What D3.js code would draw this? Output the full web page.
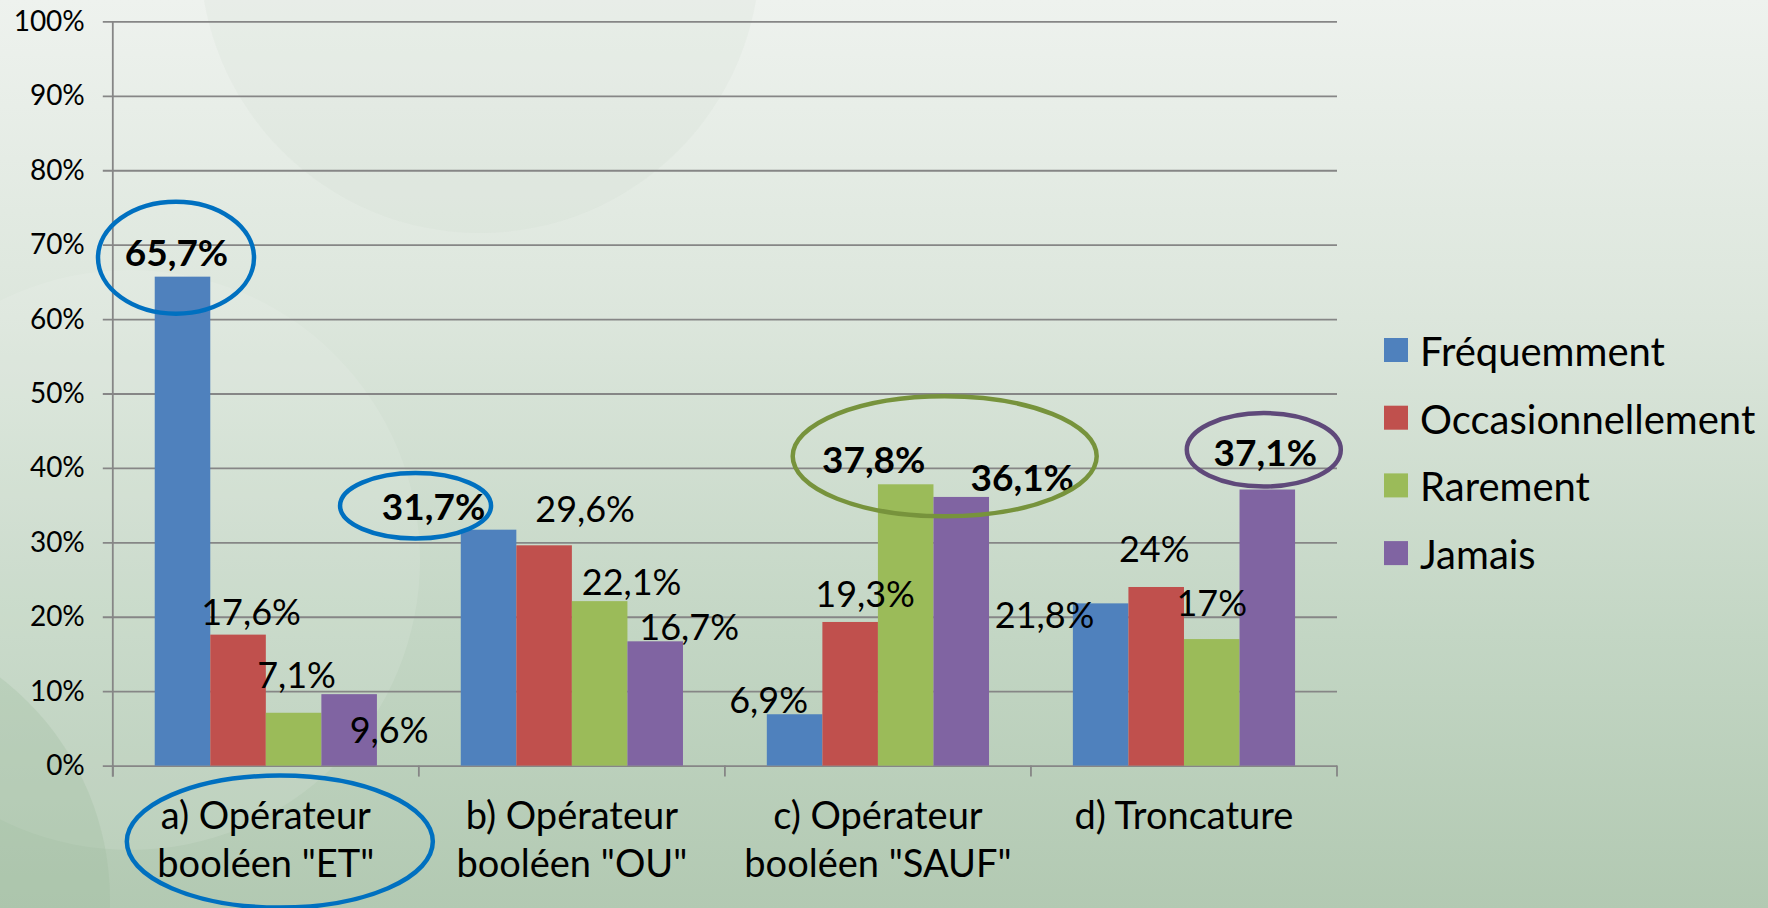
<!DOCTYPE html>
<head>
  <meta charset="utf-8">
  <script src="https://d3js.org/d3.v7.min.js"></script>
  <style>
    body{ margin: 0; }
    text{ font-family: Lato, sans-serif; fill: #000; }
    .grid text{ font-size: 28px; }
    .grid line{ stroke: #868686; stroke-width: 1.8; }
    .grid path.domain{ display: none; }
    text.valueLabel{ font-size: 36px; }
    text.valueLabel.hl{ font-weight: 700; font-size: 37px; }
    text.catLabel{ font-size: 38px; }
    text.legendLabel{ font-size: 40px; }
  </style>
</head>
<body>
<script>
  // categories (line break = "\n")
  var categories = ['a) Opérateur\nbooléen "ET"', 'b) Opérateur\nbooléen "OU"', 'c) Opérateur\nbooléen "SAUF"', 'd) Troncature'];
  var seriesNames = ['Fréquemment', 'Occasionnellement', 'Rarement', 'Jamais'];
  var frequemment = [0.657, 0.317, 0.069, 0.218];
  var occasionnellement = [0.176, 0.296, 0.193, 0.24];
  var rarement = [0.071, 0.221, 0.378, 0.17];
  var jamais = [0.096, 0.167, 0.361, 0.371];
  var yTicks = [0, 0.1, 0.2, 0.3, 0.4, 0.5, 0.6, 0.7, 0.8, 0.9, 1];

  var colours = ['#4F81BD', '#C0504D', '#9BBB59', '#8064A2'];
  // bold labels: [category, series]
  var highlighted = [[0, 0], [1, 0], [2, 2], [2, 3], [3, 3]];
  // hand placed labels: nudge from top centre of the bar [dx, dy], per category then series
  var labelNudge = [
    [[-6, -24], [13, -23], [3, -38], [40, 36]],
    [[-55, -23], [41, -36], [32, -19], [34, -14]],
    [[-26, -14], [15, -28], [-32, -25], [61, -19]],
    [[-56, 12], [-2, -38], [0, -36], [-2, -37]]
  ];

  var width = 1768, height = 908;
  var values = [frequemment, occasionnellement, rarement, jamais];

  var svg = d3.select('body').append('svg')
    .attr('width', width)
    .attr('height', height);

  // background
  var defs = svg.append('defs');
  var grad = defs.append('linearGradient').attr('id', 'bg').attr('x1', 0).attr('y1', 0).attr('x2', 0).attr('y2', 1);
  [[0, '#EEF2EE'], [0.35, '#DCE6DC'], [0.7, '#C3D6C4'], [1, '#B2C9B2']].forEach(s => {
    grad.append('stop').attr('offset', s[0]).attr('stop-color', s[1]);
  });
  svg.append('rect').attr('width', width).attr('height', height).attr('fill', 'url(#bg)');
  svg.append('circle').attr('cx', 480).attr('cy', -47).attr('r', 280)
    .attr('fill', '#c9d8c9').attr('opacity', 0.14);
  svg.append('circle').attr('cx', 130).attr('cy', 560).attr('r', 290)
    .attr('fill', '#ffffff').attr('opacity', 0.1);
  svg.append('circle').attr('cx', -170).attr('cy', 900).attr('r', 280)
    .attr('fill', '#9fbc9f').attr('opacity', 0.3);

  var y = d3.scaleLinear()
    .domain([0, 1])
    .range([765.6, 21.4]);

  var x0 = d3.scaleBand()
    .domain(d3.range(categories.length))
    .range([112.8, 1337])
    .paddingInner(0.274)
    .paddingOuter(0.137);

  var x1 = d3.scaleBand()
    .domain(d3.range(seriesNames.length))
    .range([0, x0.bandwidth()]);

  var left = x0.range()[0], right = x0.range()[1];

  // gridlines + y labels
  svg.append('g')
    .attr('class', 'grid')
    .attr('transform', `translate(${right},0)`)
    .call(d3.axisLeft(y)
      .tickValues(yTicks)
      .tickSize(right - left + 10)
      .tickPadding(18)
      .tickFormat(d3.format('.0%')));

  // axes lines
  svg.append('line')
    .attr('x1', left).attr('x2', left)
    .attr('y1', y(1)).attr('y2', y(0) + 11)
    .attr('stroke', '#868686').attr('stroke-width', 1.8);

  svg.selectAll('line.catTick')
    .data(d3.range(categories.length + 1))
    .enter().append('line')
    .attr('class', 'catTick')
    .attr('x1', i => left + i * x0.step()).attr('x2', i => left + i * x0.step())
    .attr('y1', y(0)).attr('y2', y(0) + 11)
    .attr('stroke', '#868686').attr('stroke-width', 1.8);

  var data = [];
  categories.forEach((c, i) => {
    seriesNames.forEach((s, j) => {
      data.push({cat: i, ser: j, value: values[j][i]});
    });
  });

  var bx = d => x0(d.cat) + x1(d.ser) + x1.bandwidth() / 2;

  svg.selectAll('rect.bar')
    .data(data)
    .enter().append('rect')
    .attr('class', 'bar')
    .attr('x', d => x0(d.cat) + x1(d.ser))
    .attr('width', x1.bandwidth())
    .attr('y', d => y(d.value))
    .attr('height', d => y(0) - y(d.value))
    .style('fill', d => colours[d.ser]);

  var loc = d3.formatLocale({decimal: ',', thousands: ' ', grouping: [3], currency: ['', ' €']});
  var fmt = loc.format('.1~%');

  var isHl = d => highlighted.some(h => h[0] == d.cat && h[1] == d.ser);

  svg.selectAll('text.valueLabel')
    .data(data)
    .enter().append('text')
    .attr('class', d => isHl(d) ? 'valueLabel hl' : 'valueLabel')
    .attr('x', d => bx(d) + labelNudge[d.cat][d.ser][0])
    .attr('y', d => y(d.value) + labelNudge[d.cat][d.ser][1])
    .attr('dy', '0.36em')
    .style('text-anchor', 'middle')
    .text(d => fmt(d.value));

  // category labels
  var catBase = y(0) + 63;
  svg.selectAll('text.catLabel')
    .data(categories)
    .enter().append('text')
    .attr('class', 'catLabel')
    .attr('y', catBase)
    .style('text-anchor', 'middle')
    .each(function(c, i) {
      c.split('\n').forEach((line, k) => {
        d3.select(this).append('tspan')
          .attr('x', x0(i) + x0.bandwidth() / 2)
          .attr('dy', k == 0 ? 0 : 48)
          .text(line);
      });
    });

  // legend
  var legend = svg.append('g').attr('transform', 'translate(1384,350)');
  seriesNames.forEach((s, j) => {
    var row = legend.append('g').attr('transform', `translate(0,${j * 67.7})`);
    row.append('rect').attr('x', 0).attr('y', -12).attr('width', 24).attr('height', 24)
      .style('fill', colours[j]);
    row.append('text').attr('class', 'legendLabel')
      .attr('x', 36).attr('y', 2).attr('dy', '0.35em')
      .text(s);
  });

  // hand drawn highlight ellipses, placed relative to the label they circle
  var labelPos = (c, s) => [bx({cat: c, ser: s}) + labelNudge[c][s][0], y(values[s][c]) + labelNudge[c][s][1]];
  var rings = [
    {at: labelPos(0, 0), dx: -0.5, dy: 5, rx: 78, ry: 56, col: '#0070C0'},
    {at: labelPos(1, 0), dx: -18, dy: -1, rx: 75.5, ry: 32.7, col: '#0070C0'},
    {at: labelPos(2, 2), dx: 71, dy: -3, rx: 152, ry: 60, col: '#77933C'},
    {at: labelPos(3, 3), dx: -1.5, dy: -2.7, rx: 77, ry: 36.7, col: '#5F497A'},
    {at: [x0(0) + x0.bandwidth() / 2, catBase], dx: 14, dy: 13, rx: 153, ry: 66, col: '#0070C0'}
  ];
  svg.selectAll('ellipse.ring')
    .data(rings)
    .enter().append('ellipse')
    .attr('class', 'ring')
    .attr('cx', d => d.at[0] + d.dx)
    .attr('cy', d => d.at[1] + d.dy)
    .attr('rx', d => d.rx)
    .attr('ry', d => d.ry)
    .style('fill', 'none')
    .style('stroke', d => d.col)
    .style('stroke-width', 4.5);
</script>
</body>
